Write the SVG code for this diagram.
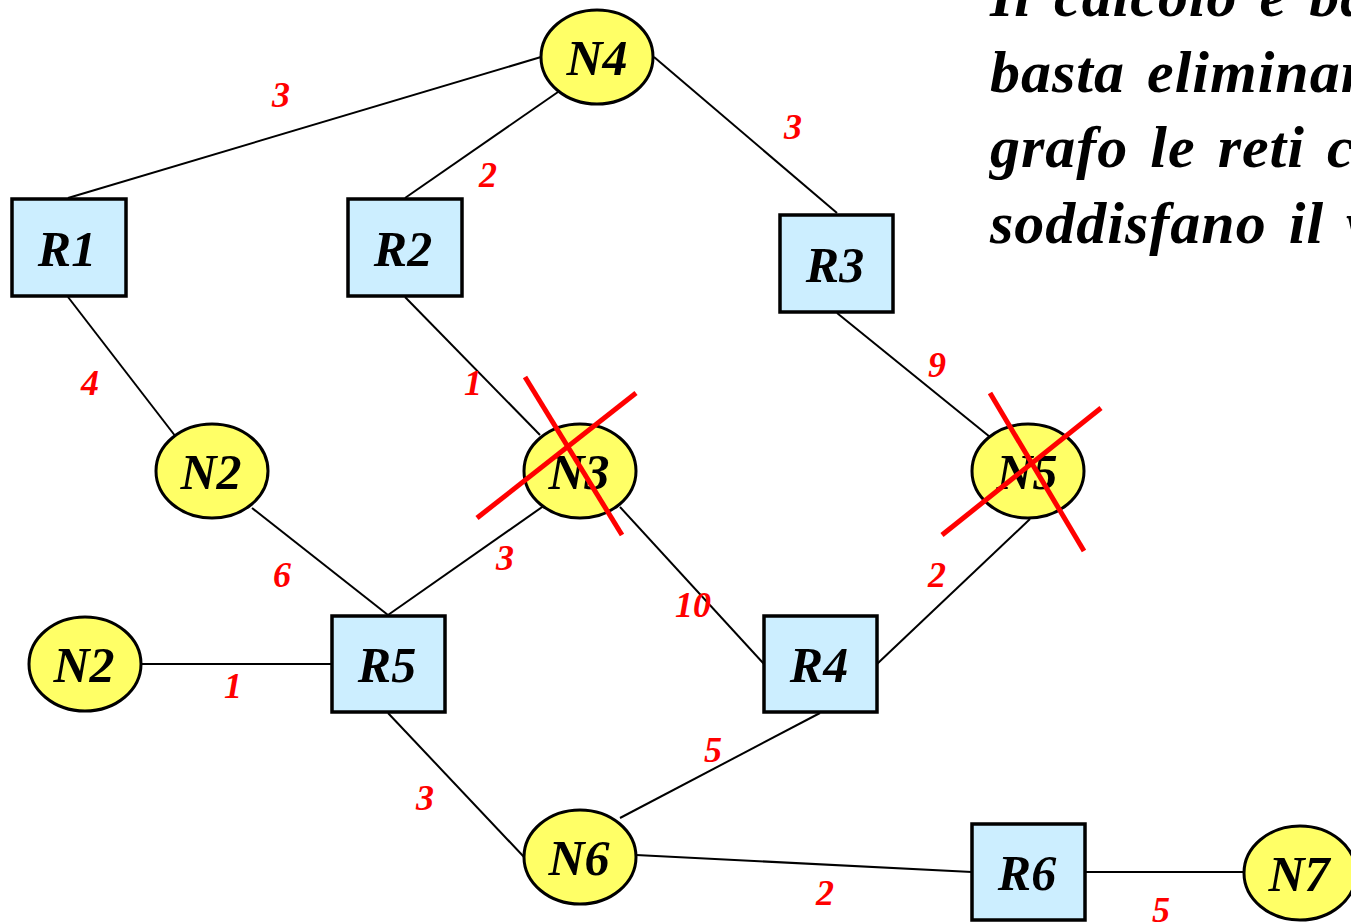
<svg xmlns="http://www.w3.org/2000/svg" width="1351" height="922" viewBox="0 0 1351 922">
<style>
.n ellipse{fill:#ffff66;stroke:#000;stroke-width:3}
.r rect{fill:#cceeff;stroke:#000;stroke-width:3.5}
.lbl{font-family:"Liberation Serif","Times New Roman",serif;font-weight:bold;font-style:italic;font-size:50px;fill:#000;text-anchor:middle}
.w{font-family:"Liberation Serif","Times New Roman",serif;font-weight:bold;font-style:italic;font-size:36px;fill:#ff0000;text-anchor:middle}
.para{font-family:"Liberation Serif","Times New Roman",serif;font-weight:bold;font-style:italic;font-size:60px;letter-spacing:1px;word-spacing:6px;fill:#000}
#edges line{stroke:#000;stroke-width:2}
.x line{stroke:#ff0000;stroke-width:5}
</style>
<rect width="1351" height="922" fill="#fff"/>
<g id="edges">
<line x1="68" y1="198" x2="541" y2="57"/>
<line x1="405" y1="198" x2="558" y2="92"/>
<line x1="654" y1="57" x2="837" y2="213"/>
<line x1="68" y1="297" x2="176" y2="437"/>
<line x1="405" y1="297" x2="540" y2="435"/>
<line x1="837" y1="313" x2="990" y2="437"/>
<line x1="252" y1="508" x2="388" y2="615"/>
<line x1="545" y1="505" x2="388" y2="615"/>
<line x1="620" y1="507" x2="764" y2="664"/>
<line x1="1030" y1="519" x2="877" y2="664"/>
<line x1="141" y1="664" x2="332" y2="664"/>
<line x1="388" y1="713" x2="524" y2="857"/>
<line x1="820" y1="713" x2="620" y2="818"/>
<line x1="636" y1="855" x2="972" y2="872"/>
<line x1="1085" y1="872" x2="1244" y2="872"/>
</g>
<g id="weights">
<text class="w" x="281" y="107">3</text>
<text class="w" x="488" y="187">2</text>
<text class="w" x="793" y="139">3</text>
<text class="w" x="90" y="395">4</text>
<text class="w" x="473" y="395">1</text>
<text class="w" x="937" y="377">9</text>
<text class="w" x="282" y="587">6</text>
<text class="w" x="505" y="570">3</text>
<text class="w" x="693" y="617">10</text>
<text class="w" x="937" y="587">2</text>
<text class="w" x="233" y="698">1</text>
<text class="w" x="713" y="762">5</text>
<text class="w" x="425" y="810">3</text>
<text class="w" x="825" y="905">2</text>
<text class="w" x="1161" y="922">5</text>
</g>
<g id="N4" class="n"><ellipse cx="597" cy="57" rx="56" ry="47"/><text class="lbl" x="597" y="75">N4</text></g>
<g id="R1" class="r"><rect x="12" y="199" width="114" height="97"/><text class="lbl" x="67" y="266">R1</text></g>
<g id="R2" class="r"><rect x="348" y="199" width="114" height="97"/><text class="lbl" x="403" y="266">R2</text></g>
<g id="R3" class="r"><rect x="780" y="215" width="113" height="97"/><text class="lbl" x="835" y="282">R3</text></g>
<g id="N2a" class="n"><ellipse cx="212" cy="471" rx="56" ry="47"/><text class="lbl" x="211" y="489">N2</text></g>
<g id="N3" class="n"><ellipse cx="580" cy="471" rx="56" ry="47"/><text class="lbl" x="579" y="489">N3</text></g>
<g id="N5" class="n"><ellipse cx="1028" cy="471" rx="56" ry="47"/><text class="lbl" x="1027" y="489">N5</text></g>
<g id="N2b" class="n"><ellipse cx="85" cy="664" rx="56" ry="47"/><text class="lbl" x="84" y="682">N2</text></g>
<g id="R5" class="r"><rect x="332" y="616" width="113" height="96"/><text class="lbl" x="387" y="682">R5</text></g>
<g id="R4" class="r"><rect x="764" y="616" width="113" height="96"/><text class="lbl" x="819" y="682">R4</text></g>
<g id="N6" class="n"><ellipse cx="580" cy="857" rx="56" ry="47"/><text class="lbl" x="579" y="875">N6</text></g>
<g id="R6" class="r"><rect x="972" y="824" width="113" height="96"/><text class="lbl" x="1027" y="890">R6</text></g>
<g id="N7" class="n"><ellipse cx="1300" cy="873" rx="56" ry="47"/><text class="lbl" x="1299" y="891">N7</text></g>
<g id="crossN3" class="x"><line x1="525" y1="377" x2="622" y2="535"/><line x1="477" y1="518" x2="636" y2="393"/></g>
<g id="crossN5" class="x"><line x1="990" y1="393" x2="1084" y2="551"/><line x1="942" y1="535" x2="1101" y2="408"/></g>
<g id="note">
<text class="para" x="990" y="16">Il calcolo è ba</text>
<text class="para" x="990" y="92">basta eliminar</text>
<text class="para" x="990" y="167">grafo le reti ch</text>
<text class="para" x="990" y="243">soddisfano il v</text>
</g>
</svg>
